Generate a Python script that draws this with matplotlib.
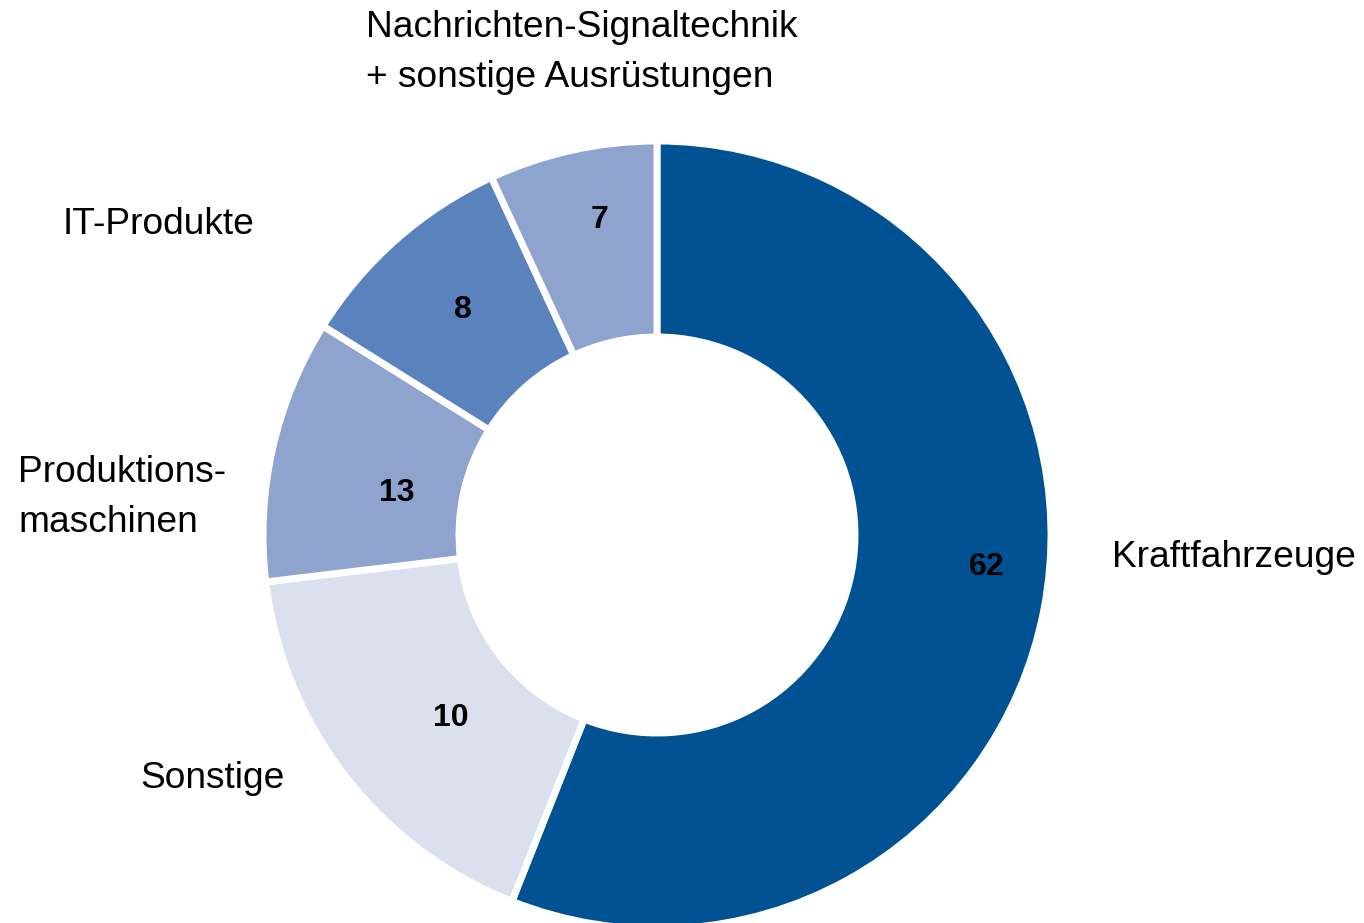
import matplotlib
matplotlib.use("Agg")
import matplotlib.pyplot as plt

# Data (wedge shares as drawn, printed value labels)
categories = ["Kraftfahrzeuge", "Sonstige", "Produktions-\nmaschinen", "IT-Produkte",
              "Nachrichten-Signaltechnik\n+ sonstige Ausrüstungen"]
shares = [56.0, 17.1, 10.8, 9.2, 6.9]
value_labels = ["62", "10", "13", "8", "7"]
colors = ["#005293", "#DAE0EE", "#8FA3CF", "#5A82BC", "#8FA3CF"]

# Layout (pixel coordinates, y measured from top)
W, H = 1364, 923
cx, cy = 657, 535
R_out, R_in = 394, 198
value_pos = [(987, 567), (451, 718), (397, 493), (463, 310), (600, 220)]
cat_pos = [(1112, 567), (140, 788), (18, 482), (63, 234), (366, 37)]
line_step = 50

plt.rcParams['font.family'] = ['Liberation Sans', 'DejaVu Sans']
fig = plt.figure(figsize=(W / 100, H / 100), dpi=100)
ax = fig.add_axes([0, 0, 1, 1])

ax.pie(shares, colors=colors, startangle=90, counterclock=False,
       center=(cx, H - cy), radius=R_out,
       wedgeprops=dict(width=R_out - R_in, edgecolor='white', linewidth=5),
       frame=True)
ax.set_xlim(0, W)
ax.set_ylim(0, H)
ax.set_aspect('equal')
ax.axis('off')

for (x, y), lab in zip(value_pos, value_labels):
    ax.text(x, H - y, lab, ha='center', va='center', fontsize=23,
            fontweight='bold', color='black')

for (x, y), cat in zip(cat_pos, categories):
    for i, line in enumerate(cat.split("\n")):
        ax.text(x, H - (y + i * line_step), line, ha='left', va='baseline',
                fontsize=26.7, color='black')

fig.savefig("out.png", dpi=100)
